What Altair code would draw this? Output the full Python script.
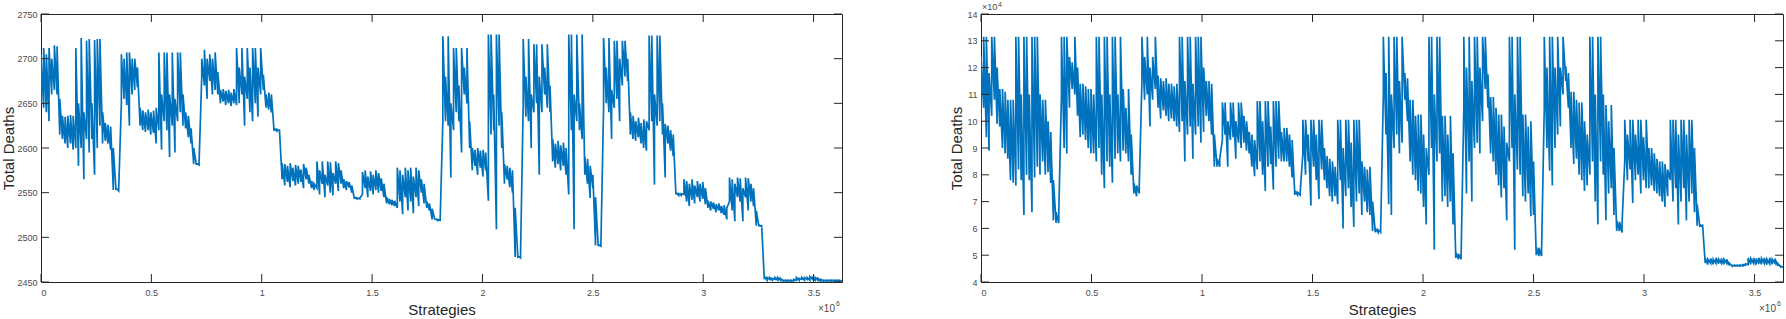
import altair as alt
import numpy as np
import pandas as pd

# x axis: strategy index in millions (10! = 3,628,800 strategies)
X_MAX = 3.6288
X_TICKS = [0, 0.5, 1, 1.5, 2, 2.5, 3, 3.5]
L_Y_TICKS = [2450, 2500, 2550, 2600, 2650, 2700, 2750]
R_Y_TICKS = [4, 5, 6, 7, 8, 9, 10, 11, 12, 13, 14]
EXP_BASE = "\u00d710"
EXP_LEFT_X = "6"
EXP_RIGHT_X = "6"
EXP_RIGHT_Y = "4"

# Left panel: per-sample low / high of the trace (300 samples, 30 per block)
L_LO = [
    # block 1
    2650, 2645, 2640, 2630, 2660, 2665, 2660, 2615, 2610, 2605,
    2600, 2605, 2598, 2600, 2580, 2600, 2565, 2610, 2595, 2610,
    2570, 2600, 2625, 2605, 2608, 2605, 2598, 2553, 2553, 2552,
    # block 2
    2650, 2655, 2648, 2625, 2660, 2665, 2668, 2625, 2620, 2618,
    2620, 2615, 2617, 2605, 2620, 2598, 2630, 2620, 2590, 2625,
    2595, 2630, 2640, 2625, 2622, 2612, 2605, 2582, 2581, 2581,
    # block 3
    2680, 2670, 2655, 2675, 2660, 2665, 2660, 2650, 2652, 2648,
    2650, 2647, 2650, 2648, 2650, 2660, 2625, 2655, 2640, 2630,
    2650, 2635, 2660, 2665, 2645, 2643, 2640, 2619, 2619, 2619,
    # block 4
    2565, 2558, 2562, 2556, 2563, 2558, 2560, 2562, 2555, 2565,
    2560, 2555, 2553, 2555, 2548, 2560, 2545, 2558, 2550, 2547,
    2560, 2552, 2560, 2555, 2553, 2556, 2550, 2543, 2543, 2543,
    # block 5
    2548, 2555, 2545, 2552, 2548, 2553, 2550, 2552, 2545, 2538,
    2537, 2536, 2535, 2533, 2540, 2526, 2545, 2530, 2540, 2527,
    2545, 2535, 2550, 2538, 2533, 2530, 2520, 2520, 2519, 2519,
    # block 6
    2630, 2630, 2625, 2567, 2620, 2640, 2630, 2595, 2660, 2650,
    2600, 2575, 2580, 2570, 2578, 2568, 2575, 2541, 2615, 2620,
    2509, 2625, 2600, 2560, 2565, 2556, 2550, 2478, 2477, 2477,
    # block 7
    2650, 2635, 2630, 2600, 2640, 2650, 2570, 2640, 2660, 2645,
    2640, 2585, 2578, 2582, 2575, 2580, 2570, 2548, 2620, 2509,
    2630, 2620, 2610, 2570, 2560, 2544, 2555, 2491, 2490, 2490,
    # block 8
    2645, 2650, 2640, 2610, 2645, 2655, 2630, 2670, 2680, 2675,
    2615, 2610, 2608, 2612, 2605, 2600, 2597, 2620, 2630, 2559,
    2625, 2630, 2615, 2567, 2605, 2597, 2591, 2548, 2547, 2547,
    # block 9
    2548, 2540, 2535, 2542, 2538, 2545, 2540, 2543, 2537, 2533,
    2530, 2532, 2528, 2530, 2527, 2525, 2520, 2540, 2530, 2518,
    2545, 2540, 2518, 2545, 2530, 2540, 2535, 2513, 2512, 2512,
    # block 10
    2453, 2452, 2453, 2452, 2453, 2452, 2452, 2451, 2451, 2451,
    2451, 2451, 2452, 2452, 2453, 2452, 2453, 2452, 2453, 2452,
    2452, 2451, 2451, 2451, 2451, 2451, 2451, 2451, 2451, 2451,
]
L_HI = [
    # block 1
    2705, 2712, 2705, 2712, 2700, 2715, 2714, 2655, 2636, 2635,
    2636, 2637, 2636, 2712, 2650, 2723, 2640, 2720, 2722, 2650,
    2721, 2722, 2722, 2640, 2628, 2626, 2624, 2600, 2555, 2554,
    # block 2
    2705, 2700, 2707, 2707, 2700, 2700, 2690, 2645, 2642, 2640,
    2643, 2640, 2642, 2645, 2707, 2660, 2707, 2707, 2660, 2707,
    2655, 2707, 2707, 2660, 2640, 2636, 2622, 2600, 2583, 2583,
    # block 3
    2700, 2710, 2700, 2705, 2700, 2707, 2685, 2665, 2666, 2664,
    2665, 2662, 2666, 2712, 2690, 2712, 2680, 2712, 2690, 2712,
    2712, 2690, 2712, 2682, 2660, 2662, 2660, 2622, 2621, 2621,
    # block 4
    2583, 2582, 2580, 2583, 2578, 2581, 2580, 2576, 2582, 2578,
    2570, 2563, 2560, 2585, 2575, 2585, 2570, 2585, 2584, 2572,
    2585, 2583, 2575, 2565, 2563, 2562, 2558, 2545, 2544, 2544,
    # block 5
    2573, 2575, 2568, 2574, 2570, 2575, 2572, 2566, 2560, 2545,
    2543, 2542, 2541, 2578, 2575, 2570, 2578, 2575, 2578, 2568,
    2578, 2575, 2565, 2560, 2540, 2538, 2532, 2521, 2520, 2520,
    # block 6
    2725, 2680, 2725, 2650, 2712, 2712, 2670, 2712, 2690, 2712,
    2630, 2600, 2598, 2600, 2597, 2598, 2595, 2727, 2727, 2660,
    2727, 2727, 2640, 2582, 2580, 2578, 2575, 2533, 2479, 2479,
    # block 7
    2722, 2680, 2722, 2660, 2716, 2716, 2680, 2716, 2690, 2716,
    2670, 2610, 2605, 2608, 2603, 2606, 2600, 2727, 2727, 2660,
    2727, 2650, 2727, 2590, 2588, 2580, 2570, 2545, 2492, 2492,
    # block 8
    2723, 2690, 2723, 2665, 2720, 2720, 2700, 2720, 2720, 2700,
    2640, 2636, 2630, 2634, 2628, 2632, 2630, 2726, 2726, 2660,
    2726, 2726, 2650, 2627, 2625, 2620, 2615, 2550, 2549, 2549,
    # block 9
    2565, 2563, 2560, 2565, 2558, 2563, 2560, 2562, 2555, 2541,
    2540, 2539, 2537, 2538, 2535, 2536, 2533, 2567, 2565, 2560,
    2567, 2566, 2555, 2567, 2566, 2560, 2555, 2530, 2514, 2514,
    # block 10
    2456, 2455, 2455, 2454, 2455, 2455, 2454, 2452, 2452, 2452,
    2452, 2453, 2455, 2454, 2455, 2455, 2455, 2456, 2455, 2455,
    2454, 2453, 2452, 2452, 2452, 2452, 2452, 2452, 2452, 2452,
]

# Right panel (values in units of 10^4)
R_LO = [
    # block 1
    10.0, 10.5, 9.4, 8.9, 10.2, 10.8, 9.9, 9.8, 9.0, 8.8,
    8.6, 7.8, 7.7, 7.6, 8.2, 7.8, 6.5, 8.0, 7.8, 6.6,
    7.9, 8.3, 8.0, 8.5, 8.0, 8.1, 7.7, 6.3, 6.2, 6.2,
    # block 2
    11.0, 9.0, 8.8, 10.5, 11.2, 11.0, 10.2, 9.4, 9.5, 9.3,
    9.0, 8.8, 8.8, 8.5, 9.0, 8.0, 7.5, 8.5, 8.3, 7.7,
    8.6, 8.8, 8.5, 8.9, 8.8, 8.5, 8.0, 7.3, 7.2, 7.3,
    # block 3
    11.5, 10.8, 11.0, 9.8, 10.8, 11.2, 10.5, 10.1, 10.4, 10.2,
    10.0, 10.1, 10.0, 9.8, 9.6, 10.0, 8.5, 9.5, 9.8, 8.6,
    9.5, 9.8, 9.2, 9.6, 10.2, 10.0, 9.5, 8.3, 8.3, 8.3,
    # block 4
    9.3, 9.5, 8.3, 9.3, 9.4, 8.6, 9.2, 9.0, 9.2, 8.9,
    8.8, 8.3, 7.95, 8.2, 8.5, 8.0, 7.4, 8.3, 8.4, 7.45,
    8.3, 8.6, 8.5, 8.5, 8.5, 8.3, 7.9, 7.25, 7.25, 7.25,
    # block 5
    8.8, 8.0, 8.5, 6.85, 8.3, 7.8, 7.1, 8.2, 7.8, 7.5,
    7.2, 7.0, 7.2, 6.9, 7.8, 6.0, 7.2, 7.5, 6.8, 6.05,
    7.0, 7.3, 6.5, 7.0, 6.6, 6.5, 5.9, 5.85, 5.85, 5.85,
    # block 6
    11.0, 9.5, 6.9, 6.5, 9.0, 9.5, 8.8, 9.2, 10.8, 10.0,
    8.5, 8.0, 7.8, 7.4, 7.3, 6.8, 6.15, 8.0, 9.0, 5.2,
    8.5, 8.8, 7.0, 7.2, 6.8, 7.0, 6.15, 4.9, 4.85, 4.85,
    # block 7
    10.5, 7.3, 8.5, 7.0, 9.0, 9.2, 8.8, 10.0, 11.2, 10.5,
    8.8, 8.5, 8.0, 7.6, 7.15, 7.5, 6.3, 8.5, 9.0, 5.2,
    8.2, 8.0, 7.2, 7.0, 7.3, 6.45, 6.5, 5.0, 4.97, 4.97,
    # block 8
    10.5, 9.0, 8.15, 7.6, 9.0, 9.5, 9.8, 11.0, 11.5, 10.5,
    9.0, 8.4, 8.6, 8.0, 7.8, 7.4, 7.6, 8.0, 8.5, 7.0,
    6.15, 8.5, 8.0, 6.3, 7.3, 7.5, 6.5, 5.9, 5.9, 5.85,
    # block 9
    8.5, 7.8, 8.2, 6.95, 7.8, 8.0, 7.3, 7.8, 7.5, 7.5,
    7.6, 7.4, 7.3, 7.2, 7.0, 6.8, 7.2, 7.8, 7.0, 7.5,
    6.15, 7.0, 7.5, 6.3, 7.0, 7.3, 6.6, 6.1, 6.05, 6.05,
    # block 10
    4.7, 4.65, 4.7, 4.66, 4.7, 4.68, 4.7, 4.66, 4.7, 4.62,
    4.6, 4.6, 4.6, 4.6, 4.6, 4.62, 4.65, 4.66, 4.7, 4.65,
    4.68, 4.66, 4.7, 4.65, 4.68, 4.66, 4.7, 4.6, 4.58, 4.55,
]
R_HI = [
    # block 1
    12.4, 13.15, 13.15, 11.8, 13.15, 13.15, 12.0, 11.2, 11.2, 11.1,
    10.8, 10.8, 10.8, 13.15, 13.15, 11.0, 13.15, 13.15, 11.0, 13.15,
    13.15, 13.15, 11.0, 10.8, 10.8, 10.0, 9.6, 7.8, 6.6, 6.6,
    # block 2
    13.15, 13.15, 13.15, 12.4, 12.2, 13.15, 12.0, 11.4, 11.4, 11.3,
    11.2, 11.2, 11.0, 13.15, 13.15, 11.0, 13.15, 13.15, 11.0, 13.15,
    13.15, 11.0, 13.15, 11.2, 10.5, 11.2, 9.5, 7.7, 7.6, 7.6,
    # block 3
    13.15, 12.4, 13.15, 12.0, 12.4, 13.15, 11.7, 11.6, 11.5, 11.6,
    11.4, 11.4, 11.3, 11.4, 13.15, 13.15, 11.5, 13.15, 13.15, 11.4,
    13.15, 13.15, 13.15, 12.0, 11.5, 11.5, 11.4, 9.5, 8.6, 8.6,
    # block 4
    10.7, 10.7, 10.0, 10.7, 10.7, 10.0, 10.7, 10.7, 10.2, 10.0,
    9.6, 9.5, 9.3, 10.75, 10.75, 10.0, 10.75, 10.75, 9.8, 10.75,
    10.75, 10.75, 9.6, 9.75, 9.75, 9.5, 9.3, 7.4, 7.35, 7.35,
    # block 5
    10.05, 10.05, 9.5, 10.05, 10.05, 9.5, 10.05, 10.05, 9.0, 8.7,
    8.6, 8.5, 8.3, 10.05, 10.05, 9.0, 10.05, 10.05, 9.2, 10.05,
    10.05, 10.05, 8.5, 8.3, 8.2, 8.3, 7.0, 6.0, 5.95, 5.95,
    # block 6
    13.15, 11.8, 13.15, 11.0, 13.15, 13.15, 11.5, 13.15, 11.8, 11.6,
    10.8, 10.8, 10.2, 10.25, 10.25, 9.5, 9.0, 13.15, 13.15, 11.0,
    13.15, 13.15, 10.2, 10.2, 9.5, 10.2, 8.8, 5.1, 5.05, 5.0,
    # block 7
    13.15, 12.0, 13.15, 11.5, 13.15, 13.15, 12.0, 13.15, 13.15, 11.75,
    10.9, 10.9, 10.5, 10.25, 10.25, 9.8, 9.2, 13.15, 13.15, 11.0,
    13.15, 13.15, 10.25, 10.25, 9.8, 10.0, 8.5, 5.3, 5.28, 5.2,
    # block 8
    13.15, 12.0, 13.15, 13.15, 12.0, 13.15, 12.0, 13.15, 12.05, 11.8,
    11.1, 11.1, 10.8, 10.7, 10.7, 10.0, 9.5, 13.15, 13.15, 11.0,
    13.15, 13.15, 11.0, 10.6, 10.0, 10.6, 9.0, 6.3, 6.25, 6.2,
    # block 9
    10.05, 9.5, 10.05, 10.05, 9.5, 10.05, 10.05, 9.4, 10.05, 9.0,
    9.0, 8.8, 8.6, 8.5, 8.5, 8.4, 8.2, 10.05, 10.05, 10.05,
    9.5, 10.05, 10.05, 9.5, 10.05, 10.05, 9.0, 6.9, 6.15, 6.15,
    # block 10
    4.9, 4.85, 4.88, 4.85, 4.9, 4.85, 4.88, 4.85, 4.85, 4.7,
    4.62, 4.62, 4.62, 4.63, 4.65, 4.68, 4.9, 4.88, 4.9, 4.88,
    4.9, 4.88, 4.9, 4.85, 4.9, 4.85, 4.88, 4.7, 4.6, 4.58,
]

assert len(L_LO) == len(L_HI) == len(R_LO) == len(R_HI) == 300

W_L, W_R, H = 801, 802, 268
BLUE = "#0072BD"
AX = "#262626"
LBL = "#4a4a4a"
FONT = "Liberation Sans"
TICK = 8


def trace(lo, hi):
    xs = np.linspace(0, X_MAX, len(lo))
    rows = []
    for i, (x, a, b) in enumerate(zip(xs, lo, hi)):
        rows.append({"x": float(x), "y": a, "o": 2 * i})
        rows.append({"x": float(x), "y": b, "o": 2 * i + 1})
    return pd.DataFrame(rows)


def panel(lo, hi, ydom, yticks, W, title_x, exp_texts):
    xs = alt.Scale(domain=[0, X_MAX], nice=False, zero=False)
    ys = alt.Scale(domain=ydom, nice=False, zero=False)
    x_axis = alt.Axis(
        values=X_TICKS, format="~g", ticks=False, domain=False,
        grid=False, labelFont=FONT, labelFontSize=9, labelColor=LBL,
        labelPadding=6, title="Strategies", titleFont=FONT,
        titleFontSize=15, titleFontWeight="normal", titleColor=AX,
        titleY=32, titleBaseline="alphabetic")
    y_axis = alt.Axis(
        values=yticks, format="d", ticks=False, domain=False,
        grid=False, labelFont=FONT, labelFontSize=9, labelColor=LBL,
        labelPadding=4, title="Total Deaths", titleFont=FONT,
        titleFontSize=15, titleFontWeight="normal", titleColor=AX,
        titleX=title_x, titleBaseline="bottom")
    X = lambda: alt.X("x:Q", scale=xs, axis=x_axis)
    Y = lambda: alt.Y("y:Q", scale=ys, axis=y_axis)
    line = alt.Chart(trace(lo, hi)).mark_line(
        color=BLUE, strokeWidth=1.7, clip=True
    ).encode(x=X(), y=Y(), order="o:Q")
    xt = pd.DataFrame({"x": X_TICKS})
    yt = pd.DataFrame({"y": yticks})
    rule = dict(color=AX, strokeWidth=1)
    bt = alt.Chart(xt).mark_rule(**rule).encode(
        x=X(), y=alt.value(H - TICK), y2=alt.value(H))
    tt = alt.Chart(xt).mark_rule(**rule).encode(
        x=X(), y=alt.value(0), y2=alt.value(TICK))
    lt = alt.Chart(yt).mark_rule(**rule).encode(
        y=Y(), x=alt.value(0), x2=alt.value(TICK))
    rt = alt.Chart(yt).mark_rule(**rule).encode(
        y=Y(), x=alt.value(W - TICK), x2=alt.value(W))
    layers = [line, bt, tt, lt, rt]
    for txt, px, py, size, align in exp_texts:
        layers.append(
            alt.Chart(pd.DataFrame({"t": [txt]})).mark_text(
                font=FONT, fontSize=size, color=LBL, align=align,
                baseline="alphabetic").encode(
                text="t:N", x=alt.value(px), y=alt.value(py)))
    return alt.layer(*layers).properties(width=W, height=H)


left = panel(L_LO, L_HI, [2450, 2750], L_Y_TICKS, W_L, -25, [
    (EXP_BASE, W_L - 7, H + 30, 10, "right"),
    (EXP_LEFT_X, W_L - 6, H + 24, 7, "left"),
])
right = panel(R_LO, R_HI, [4, 14], R_Y_TICKS, W_R, -17, [
    (EXP_BASE, 1, -4, 9, "left"),
    (EXP_RIGHT_Y, 17, -7, 7, "left"),
    (EXP_BASE, W_R - 7, H + 30, 10, "right"),
    (EXP_RIGHT_X, W_R - 6, H + 24, 7, "left"),
])

chart = alt.hconcat(left, right, spacing=139, bounds="flush").configure_view(
    stroke=AX, strokeWidth=1
).properties(padding={"left": 0, "top": 0, "right": 0, "bottom": 0})

chart.save("out.html", embed_options={"renderer": "svg", "actions": False})
